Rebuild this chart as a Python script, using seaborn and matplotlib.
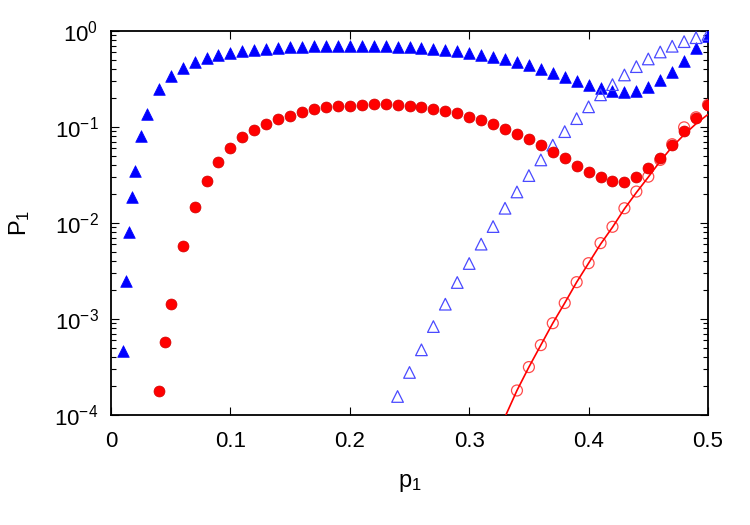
import numpy as np
import pandas as pd
import matplotlib
matplotlib.use("Agg")
import matplotlib.pyplot as plt
import matplotlib.ticker as mticker
import seaborn as sns

# filled blue triangles
blue_x = [0.01, 0.0125, 0.015, 0.0175, 0.02, 0.025, 0.03, 0.04, 0.05, 0.06,
          0.07, 0.08, 0.09, 0.10, 0.11, 0.12, 0.13, 0.14, 0.15, 0.16,
          0.17, 0.18, 0.19, 0.20, 0.21, 0.22, 0.23, 0.24, 0.25, 0.26,
          0.27, 0.28, 0.29, 0.30, 0.31, 0.32, 0.33, 0.34, 0.35, 0.36,
          0.37, 0.38, 0.39, 0.40, 0.41, 0.42, 0.43, 0.44, 0.45, 0.46,
          0.47, 0.48, 0.49, 0.50]
blue_y = [4.6e-4, 2.5e-3, 8.0e-3, 1.88e-2, 3.5e-2, 8.1e-2, 0.137, 0.247, 0.343, 0.41,
          0.475, 0.52, 0.558, 0.59, 0.615, 0.63, 0.65, 0.665, 0.675, 0.686,
          0.695, 0.70, 0.70, 0.705, 0.705, 0.70, 0.695, 0.686, 0.68, 0.67,
          0.654, 0.634, 0.615, 0.594, 0.566, 0.54, 0.507, 0.472, 0.44, 0.402,
          0.368, 0.33, 0.299, 0.272, 0.253, 0.237, 0.232, 0.239, 0.263, 0.306,
          0.377, 0.49, 0.66, 0.89]

# filled red circles
red_x = [0.04, 0.045, 0.05, 0.06, 0.07, 0.08, 0.09, 0.10, 0.11, 0.12,
         0.13, 0.14, 0.15, 0.16, 0.17, 0.18, 0.19, 0.20, 0.21, 0.22,
         0.23, 0.24, 0.25, 0.26, 0.27, 0.28, 0.29, 0.30, 0.31, 0.32,
         0.33, 0.34, 0.35, 0.36, 0.37, 0.38, 0.39, 0.40, 0.41, 0.42,
         0.43, 0.44, 0.45, 0.46, 0.47, 0.48, 0.49, 0.50]
red_y = [1.78e-4, 5.8e-4, 1.44e-3, 5.7e-3, 1.47e-2, 2.76e-2, 4.35e-2, 6.1e-2, 7.9e-2, 9.3e-2,
         0.107, 0.121, 0.131, 0.144, 0.153, 0.160, 0.165, 0.167, 0.171, 0.172,
         0.172, 0.169, 0.166, 0.160, 0.154, 0.147, 0.138, 0.128, 0.117, 0.107,
         0.096, 0.084, 0.075, 0.0645, 0.0553, 0.0475, 0.0395, 0.034, 0.0301, 0.0276,
         0.0269, 0.0303, 0.0371, 0.0472, 0.0645, 0.0908, 0.124, 0.1695]

# open blue triangles
oblue_x = [0.24, 0.25, 0.26, 0.27, 0.28, 0.29, 0.30, 0.31, 0.32, 0.33,
           0.34, 0.35, 0.36, 0.37, 0.38, 0.39, 0.40, 0.41, 0.42, 0.43,
           0.44, 0.45, 0.46, 0.47, 0.48, 0.49, 0.50]
oblue_y = [1.55e-4, 2.76e-4, 4.75e-4, 8.3e-4, 1.42e-3, 2.39e-3, 3.77e-3, 6.0e-3, 9.15e-3, 1.42e-2,
           2.1e-2, 3.11e-2, 4.53e-2, 6.45e-2, 8.93e-2, 0.122, 0.162, 0.216, 0.276, 0.348,
           0.425, 0.511, 0.604, 0.693, 0.774, 0.851, 0.92]

# open red circles
ored_x = [0.34, 0.35, 0.36, 0.37, 0.38, 0.39, 0.40, 0.41, 0.42, 0.43,
          0.44, 0.45, 0.46, 0.47, 0.48, 0.49, 0.50]
ored_y = [1.79e-4, 3.14e-4, 5.32e-4, 9.0e-4, 1.46e-3, 2.41e-3, 3.8e-3, 6.15e-3, 9.1e-3, 1.42e-2,
          2.12e-2, 3.03e-2, 4.53e-2, 6.6e-2, 9.9e-2, 0.126, 0.17]

# red fit line
line_x = [0.33, 0.34, 0.35, 0.36, 0.37, 0.38, 0.39, 0.40, 0.41, 0.42,
          0.43, 0.44, 0.45, 0.46, 0.47, 0.48, 0.49, 0.50]
line_y = [9.5e-5, 1.79e-4, 3.14e-4, 5.32e-4, 9.0e-4, 1.46e-3, 2.41e-3, 3.8e-3, 6.0e-3, 9.0e-3,
          1.4e-2, 2.07e-2, 3.0e-2, 4.4e-2, 6.2e-2, 8.3e-2, 0.108, 0.135]

sns.set_style("ticks")
plt.rcParams['font.family'] = ['Liberation Sans', 'DejaVu Sans']
plt.rcParams['mathtext.default'] = 'regular'
plt.rcParams['axes.unicode_minus'] = False
plt.rcParams['text.color'] = 'black'
plt.rcParams['axes.labelcolor'] = 'black'

fig = plt.figure(figsize=(7.5, 5.25), dpi=100)
ax = fig.add_axes([0.148, 0.21, 0.796, 0.731])

sns.scatterplot(x=blue_x, y=blue_y, marker='^', s=70, color='#0000ff',
                edgecolor='#0000ff', linewidth=0.5, ax=ax, zorder=3)
sns.scatterplot(x=oblue_x, y=oblue_y, marker='^', s=70, facecolor='none',
                edgecolor='#4a4aff', linewidth=0.9, ax=ax, zorder=4)
sns.scatterplot(x=ored_x, y=ored_y, marker='o', s=62, facecolor='none',
                edgecolor='#ff4a4a', linewidth=0.9, ax=ax, zorder=4)
sns.scatterplot(x=red_x, y=red_y, marker='o', s=62, color='#ff0000',
                edgecolor='#d00000', linewidth=0.5, ax=ax, zorder=5)
sns.lineplot(x=line_x, y=line_y, color='#ff0000', linewidth=1.2, ax=ax, zorder=6)

ax.set_yscale('log')
ax.set_xlim(0, 0.5)
ax.set_ylim(1e-4, 1)
ax.set_xticks([0, 0.1, 0.2, 0.3, 0.4, 0.5])
ax.set_xticklabels(['0', '0.1', '0.2', '0.3', '0.4', '0.5'])
ax.yaxis.set_major_locator(mticker.LogLocator(base=10, numticks=10))
ax.yaxis.set_minor_locator(mticker.LogLocator(base=10, subs=np.arange(2, 10), numticks=10))
ax.yaxis.set_minor_formatter(mticker.NullFormatter())
ax.yaxis.set_major_formatter(mticker.FuncFormatter(
    lambda v, _: '$10^{%d}$' % int(round(np.log10(v)))))

ax.tick_params(which='both', direction='in', top=True, right=True,
               labelsize=16, width=0.8, colors='black')
ax.tick_params(which='major', length=6)
ax.tick_params(axis='x', which='major', pad=12)
ax.tick_params(axis='y', which='major', pad=9)
ax.tick_params(which='minor', length=3.5)
for sp in ax.spines.values():
    sp.set_linewidth(1.3)
    sp.set_color('black')

ax.set_xlabel('$p_1$', fontsize=17, labelpad=14)
ax.set_ylabel('$P_1$', fontsize=17, labelpad=16)

fig.savefig('out.png', dpi=100)
